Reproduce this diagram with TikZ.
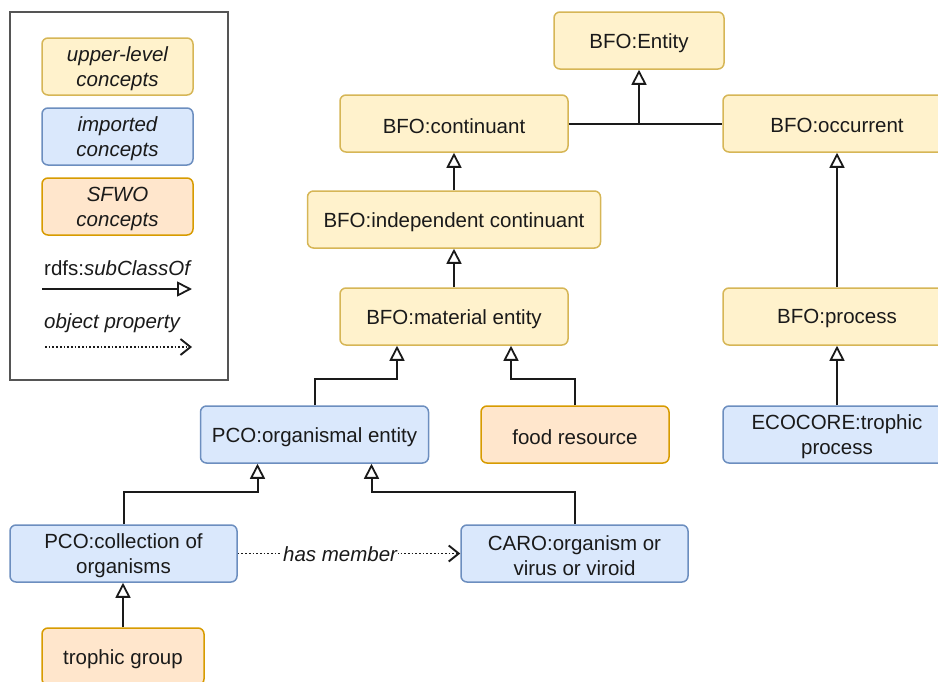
\documentclass[tikz,border=0pt]{standalone}
\usepackage{fontspec}
\setmainfont{Liberation Sans}
\usetikzlibrary{arrows.meta,calc}
\definecolor{upfill}{HTML}{FFF2CC}
\definecolor{updraw}{HTML}{D6B656}
\definecolor{imfill}{HTML}{DAE8FC}
\definecolor{imdraw}{HTML}{6C8EBF}
\definecolor{swfill}{HTML}{FFE6CC}
\definecolor{swdraw}{HTML}{D79B00}
\definecolor{ink}{HTML}{1A1A1A}
\definecolor{frame}{HTML}{555555}
% a rounded concept box with its (slightly lowered) centred caption
% #1 style, #2 name, #3 centre, #4 width, #5 caption
\newcommand\conceptbox[5]{%
  \node[#1, minimum width=#4] (#2) at #3 {};
  \node[caption] (#2-text) at ([yshift=-2.2pt]#2.center) {#5};}
\begin{document}
\begin{tikzpicture}[x=1pt,y=-1pt,
  font=\fontsize{20.5}{24.6}\selectfont, text=ink,
  concept/.style={rounded corners=6pt, line width=1.5pt,
    inner sep=0pt, minimum height=57pt},
  caption/.style={align=center, inner sep=0pt},
  upper/.style={concept, draw=updraw, fill=upfill},
  imported/.style={concept, draw=imdraw, fill=imfill},
  sfwo/.style={concept, draw=swdraw, fill=swfill},
  sub/.style={draw=ink, line width=2pt, -{Triangle[open,length=15pt,width=15pt,line width=1.8pt]}},
  prop/.style={draw=ink, line width=1.7pt, dotted, -{Straight Barb[length=10pt,width=16pt,line width=1.9pt]}},
  plainline/.style={draw=ink, line width=2pt}]
\useasboundingbox (0,0) rectangle (938,681);
\clip (0,0) rectangle (938,681);

% legend
\node[draw=frame, line width=1.6pt, minimum width=218pt, minimum height=368pt, inner sep=0pt] (legend) at (119,196) {};
\conceptbox{upper}{lupper}{(117.5,66.5)}{151pt}{\itshape upper-level\\\itshape concepts}
\conceptbox{imported}{limported}{(117.5,136.5)}{151pt}{\itshape imported\\\itshape concepts}
\conceptbox{sfwo}{lsfwo}{(117.5,206.5)}{151pt}{\itshape SFWO\\\itshape concepts}
\node[anchor=west, inner sep=0pt] (lsubtext) at (44,268) {rdfs:\textit{subClassOf}};
\coordinate (lsubA) at (42,289);
\coordinate (lsubB) at (192,289);
\draw[sub] (lsubA) -- (lsubB);
\node[anchor=west, inner sep=0pt] (lproptext) at (44,323) {\itshape object property};
\coordinate (lpropA) at (45,347);
\coordinate (lpropB) at (192,347);
\draw[prop] (lpropA) -- (lpropB);

% upper-level concepts
\conceptbox{upper}{entity}{(639,40.5)}{170pt}{BFO:Entity}
\conceptbox{upper}{cont}{(454,123.5)}{228pt}{BFO:continuant}
\conceptbox{upper}{occ}{(837,123.5)}{228pt}{BFO:occurrent}
\conceptbox{upper}{indep}{(454,219.5)}{293pt}{BFO:independent continuant}
\conceptbox{upper}{matent}{(454,316.5)}{228pt}{BFO:material entity}
\conceptbox{upper}{proc}{(837,316.5)}{228pt}{BFO:process}

% imported concepts
\conceptbox{imported}{orgent}{(314.5,434.5)}{228pt}{PCO:organismal entity}
\conceptbox{imported}{troproc}{(837,434.5)}{228pt}{ECOCORE:trophic\\process}
\conceptbox{imported}{coll}{(123.5,553.5)}{227pt}{PCO:collection of\\organisms}
\conceptbox{imported}{caro}{(574.5,553.5)}{227pt}{CARO:organism or\\virus or viroid}

% SFWO concepts
\conceptbox{sfwo}{food}{(575,434.5)}{188pt}{food resource}
\conceptbox{sfwo}{trogroup}{(123,656.5)}{162pt}{trophic group}

% subclass relations
\draw[plainline] (cont.east) -- (occ.west);
\draw[sub] (entity.south |- cont.east) -- (entity.south);
\draw[sub] (indep.north) -- (cont.south);
\draw[sub] (matent.north) -- (indep.south);
\draw[sub] (proc.north) -- (occ.south -| proc.north);
\draw[sub] (troproc.north) -- (proc.south -| troproc.north);
\draw[sub] (orgent.north) -- ++(0,-26) -| ([xshift=-57pt]matent.south);
\draw[sub] (food.north) -- ++(0,-26) -| ([xshift=57pt]matent.south);
\draw[sub] (coll.north) -- ++(0,-32) -| ([xshift=-57pt]orgent.south);
\draw[sub] (caro.north) -- ++(0,-32) -| ([xshift=57pt]orgent.south);
\draw[sub] (trogroup.north) -- (coll.south -| trogroup.north);

% object property
\draw[prop] (coll.east) -- node[pos=0.46, fill=white, inner sep=1pt, yshift=-1pt, font=\fontsize{20.5}{24.6}\selectfont\itshape] (hasmember) {has member} (caro.west);
\end{tikzpicture}
\end{document}
